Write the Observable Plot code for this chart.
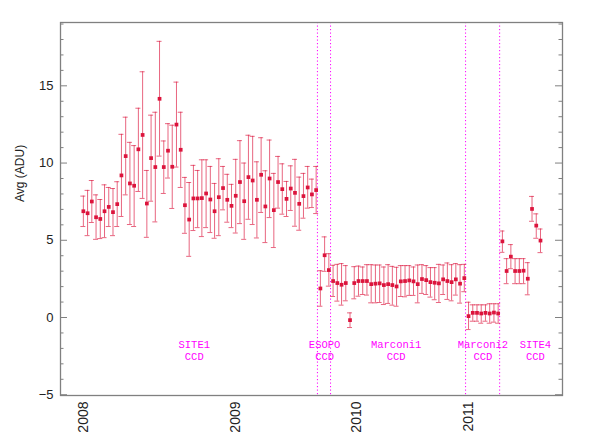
<!DOCTYPE html>
<html><head><meta charset="utf-8">
<script src="https://cdn.jsdelivr.net/npm/d3@7"></script>
<script src="https://cdn.jsdelivr.net/npm/@observablehq/plot@0.6"></script>
<style>body{margin:0;background:#fff} svg{display:block}</style>
</head><body><div id="chart"></div>
<script>
// Observation averages (ADU), in observation order
const avg = [
 6.88,6.75,7.51,6.49,6.38,6.88,7.16,6.82,7.34,9.20,10.45,8.68,8.53,10.89,11.82,7.38,10.32,9.74,14.16,9.74,
 10.80,9.76,12.49,10.86,7.27,6.34,7.71,7.71,7.73,8.03,7.64,6.88,7.79,8.38,7.62,7.23,7.88,8.77,7.53,9.09,
 8.87,7.62,9.24,7.19,9.00,6.95,8.77,8.31,7.68,8.35,8.07,7.36,7.86,8.42,7.97,8.25,
 1.88,4.03,3.07,
 2.36,2.23,2.12,2.23,-0.17,2.23,2.36,2.36,2.36,2.16,2.19,2.21,2.10,2.16,2.10,2.01,2.34,2.36,2.40,2.34,
 2.16,2.49,2.42,2.29,2.25,2.21,2.47,2.36,2.29,2.47,2.19,2.55,
 0.09,0.30,0.30,0.26,0.30,0.26,0.32,0.26,
 4.93,3.01,3.94,3.01,3.01,3.03,2.51,7.03,5.95,4.98
];
const lower = [
 5.89,5.30,6.15,5.06,5.11,5.17,5.89,5.30,5.89,6.54,7.94,6.02,5.89,8.16,7.71,5.19,7.53,6.19,10.45,8.03,
 9.03,7.06,9.74,8.42,5.45,3.96,5.63,5.82,5.24,5.82,5.50,5.13,5.30,6.97,6.17,5.82,5.47,6.08,5.06,6.36,
 6.02,5.15,6.80,4.85,6.47,4.53,7.08,6.69,6.54,6.93,5.91,5.65,6.43,7.08,7.12,6.73,
 0.73,2.99,2.03,
 1.36,1.06,0.80,1.08,-0.65,1.21,1.38,1.49,1.45,0.95,0.95,0.97,0.84,0.91,0.80,0.73,1.36,1.34,1.43,1.43,
 0.95,1.56,1.49,1.32,1.15,0.97,1.49,1.17,1.08,1.45,0.93,1.67,
 -0.78,-0.24,-0.24,-0.37,-0.24,-0.37,-0.30,-0.37,
 4.22,2.19,3.16,2.19,2.19,2.19,1.47,6.23,5.13,4.20
];
const upper = [
 7.86,8.23,8.87,7.94,7.64,8.59,8.42,8.35,8.79,11.86,12.97,11.34,11.13,13.55,15.91,9.52,13.10,13.29,17.88,11.43,
 12.55,12.45,15.24,13.29,9.07,8.74,9.85,9.52,10.21,10.21,9.78,8.68,10.28,9.78,9.27,8.62,10.24,11.45,10.00,11.80,
 11.73,10.08,11.64,9.50,11.49,9.33,10.43,9.95,8.81,9.82,10.24,9.09,9.33,9.78,8.96,9.78,
 3.03,5.22,4.13,
 3.38,3.44,3.49,3.36,0.30,3.29,3.33,3.27,3.42,3.42,3.40,3.40,3.27,3.42,3.31,3.25,3.36,3.36,3.36,3.27,
 3.40,3.42,3.36,3.23,3.23,3.44,3.40,3.53,3.42,3.49,3.42,3.44,
 0.99,0.82,0.82,0.82,0.82,0.89,0.89,0.89,
 5.60,3.81,4.72,3.81,3.81,3.81,3.55,7.84,6.71,5.73
];
const yearLabels = ["2008","2009","2010","2011"];
const yearPos = [0, 36, 64.6, 91];
const ccdNames = ["SITE1","ESOPO","Marconi1","Marconi2","SITE4"];
const ccdSub = ["CCD","CCD","CCD","CCD","CCD"];
const ccdLabelPos = [26.2, 57.0, 73.9, 94.4, 106.8];
const ccdBoundaries = [55.3, 58.4, 90.3, 98.35];
const yMajor = [-5, 0, 5, 10, 15];

const data = avg.map((v, i) => ({i, avg: v, lo: lower[i], hi: upper[i]}));
const labels = ccdNames.map((n, k) => ({x: ccdLabelPos[k], name: n, sub: ccdSub[k]}));
const xDomain = [-5.4, 113.2];
const yDomain = [-5.05, 19.1];
const W = 598, H = 447, mL = 60, mR = 36, mT = 22, mB = 52;
const pxPerX = (W - mL - mR) / (xDomain[1] - xDomain[0]);
const cap = 2.5 / pxPerX;
const majorLen = 7 / pxPerX, minorLen = 3.5 / pxPerX;
const yMinor = d3.range(-4, 20).filter(v => v % 5 !== 0);
const axisCol = "#808080";
const red = "#dc143c";
const mag = "#ff00ff";
const lblFont = "Liberation Mono, Courier New, monospace";
const sans = "Liberation Sans, Arial, sans-serif";

const chart = Plot.plot({
  width: W, height: H,
  marginLeft: mL, marginRight: mR, marginTop: mT, marginBottom: mB,
  x: {domain: xDomain, axis: null},
  y: {domain: yDomain, axis: null},
  marks: [
    Plot.ruleX(ccdBoundaries, {x: d => d, stroke: mag, strokeWidth: 1, strokeDasharray: "1.2,2.3"}),
    Plot.ruleY(yMajor, {y: d => d, x1: xDomain[0], x2: xDomain[0] + majorLen, stroke: axisCol}),
    Plot.ruleY(yMinor, {y: d => d, x1: xDomain[0], x2: xDomain[0] + minorLen, stroke: axisCol}),
    Plot.ruleY(yMajor, {y: d => d, x1: xDomain[1] - majorLen, x2: xDomain[1], stroke: axisCol}),
    Plot.ruleY(yMinor, {y: d => d, x1: xDomain[1] - minorLen, x2: xDomain[1], stroke: axisCol}),
    Plot.frame({stroke: axisCol, strokeWidth: 1.3}),
    Plot.ruleX(data, {x: "i", y1: "lo", y2: "hi", stroke: red, strokeOpacity: 0.65}),
    Plot.ruleY(data, {y: "hi", x1: d => d.i - cap, x2: d => d.i + cap, stroke: red, strokeOpacity: 0.65}),
    Plot.ruleY(data, {y: "lo", x1: d => d.i - cap, x2: d => d.i + cap, stroke: red, strokeOpacity: 0.65}),
    Plot.dot(data, {x: "i", y: "avg", r: 2.1, symbol: "square", fill: red}),
    Plot.text(labels, {x: "x", y: -1.76, text: "name", fill: mag, fontSize: 10.5, fontFamily: lblFont, lineAnchor: "middle"}),
    Plot.text(labels, {x: "x", y: -2.56, text: "sub", fill: mag, fontSize: 10.5, fontFamily: lblFont, lineAnchor: "middle"}),
    Plot.axisY(yMajor, {anchor: "left", tickSize: 0, tickPadding: 7, fontSize: 13, fontFamily: sans, fill: "#222", label: null}),
    Plot.axisX(yearPos, {anchor: "bottom", tickSize: 0, tickPadding: 6, tickRotate: -90, fontSize: 14, fontFamily: sans, fill: "#222", label: null,
      tickFormat: d => yearLabels[yearPos.indexOf(d)]}),
    Plot.text(["Avg (ADU)"], {frameAnchor: "left", rotate: -90, dx: -40, dy: -7, fontSize: 12, fontFamily: sans, fill: "#222"})
  ]
});
document.getElementById("chart").appendChild(chart);
</script>
</body></html>
